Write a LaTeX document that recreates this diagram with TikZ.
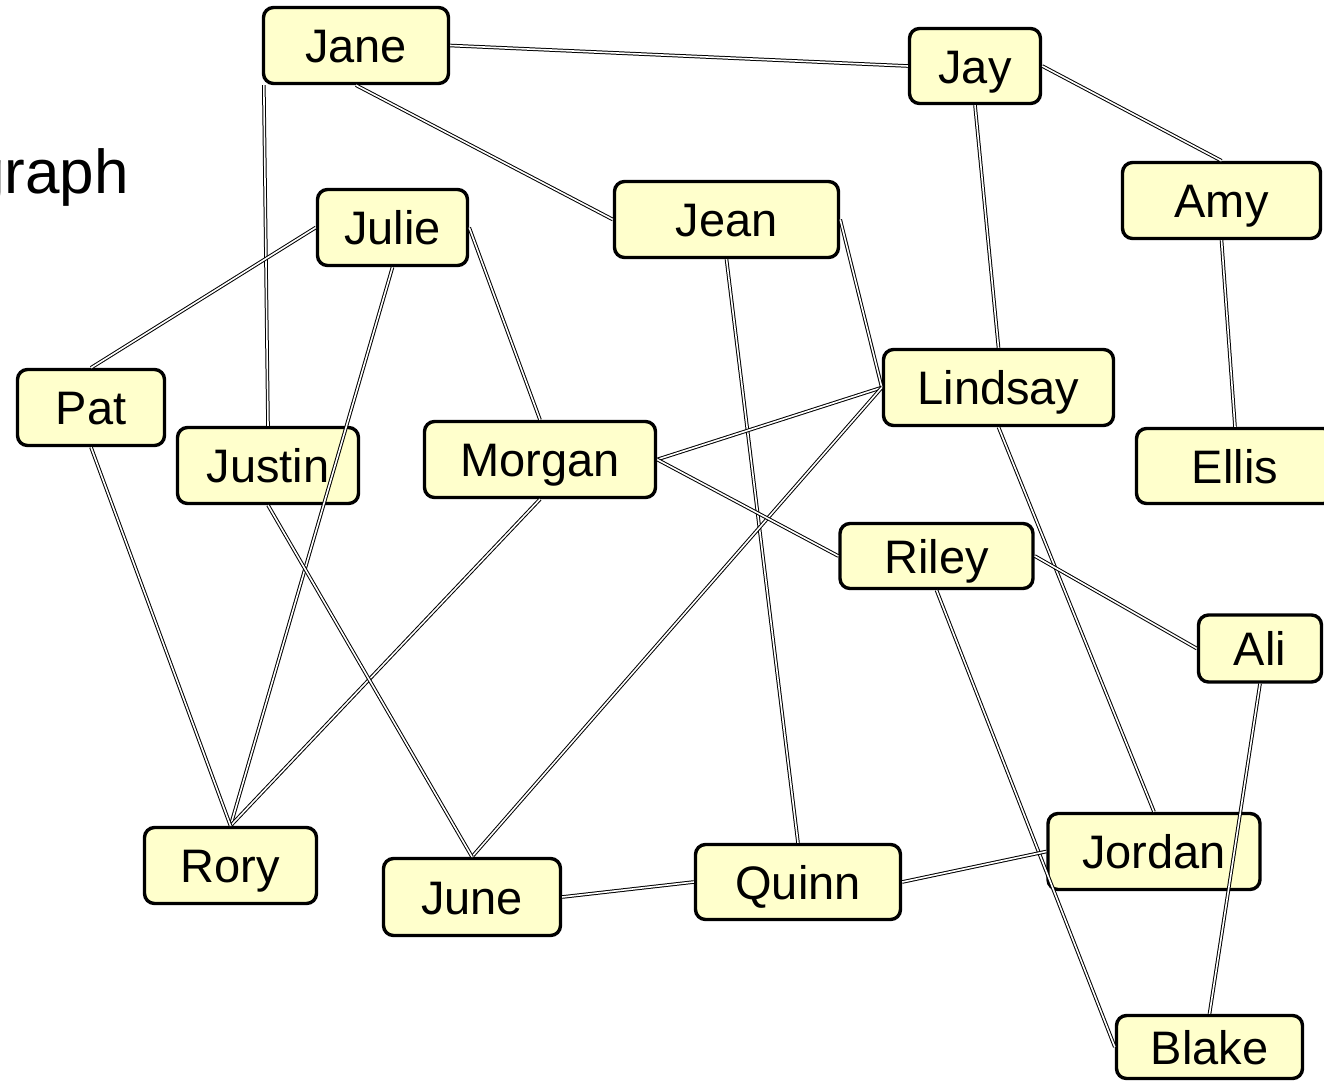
\documentclass[tikz,border=0pt]{standalone}
\usepackage{fontspec}
\setmainfont{Liberation Sans}
\usetikzlibrary{positioning}
\definecolor{notefill}{RGB}{255,255,204}

\begin{document}
\begin{tikzpicture}[x=1pt,y=-1pt]
    \tikzstyle{person}=[draw=black,line width=3.4pt,fill=notefill,rounded corners=10pt,inner sep=0pt,text height=34pt,text depth=0pt,font=\fontsize{47}{56}\selectfont]
    \tikzstyle{edge}=[draw=black,line width=1pt,double=white,double distance=1.6pt]
    \tikzstyle{title}=[anchor=base west,inner sep=0pt,font=\fontsize{62}{74}\selectfont]

    \useasboundingbox (0,0) rectangle (1324,1081);
    \clip (0,0) rectangle (1324,1081);

    \node[title] (heading) at (-30,193) {graph};

    \node[person,minimum width=185pt,minimum height=76pt] (jane) at (356,45.5) {Jane};
    \node[person,minimum width=131pt,minimum height=75pt] (jay) at (975,66) {Jay};
    \node[person,minimum width=150pt,minimum height=76pt] (julie) at (392.5,227.5) {Julie};
    \node[person,minimum width=224pt,minimum height=76pt] (jean) at (726.5,219.5) {Jean};
    \node[person,minimum width=198pt,minimum height=76pt] (amy) at (1221.5,200.5) {Amy};
    \node[person,minimum width=147pt,minimum height=76pt] (pat) at (91,407.5) {Pat};
    \node[person,minimum width=181pt,minimum height=76pt] (justin) at (268,465.5) {Justin};
    \node[person,minimum width=231pt,minimum height=76pt] (morgan) at (540,459.5) {Morgan};
    \node[person,minimum width=230pt,minimum height=76pt] (lindsay) at (998.5,387.5) {Lindsay};
    \node[person,minimum width=197pt,minimum height=75pt] (ellis) at (1235,466) {Ellis};
    \node[person,minimum width=193pt,minimum height=65pt] (riley) at (936.5,556) {Riley};
    \node[person,minimum width=123pt,minimum height=67pt] (ali) at (1260,648.5) {Ali};
    \node[person,minimum width=172pt,minimum height=76pt] (rory) at (230.5,865.5) {Rory};
    \node[person,minimum width=177pt,minimum height=77pt] (june) at (472,897) {June};
    \node[person,minimum width=205pt,minimum height=75pt] (quinn) at (798,882) {Quinn};
    \node[person,minimum width=212pt,minimum height=76pt] (jordan) at (1154,851.5) {Jordan};
    \node[person,minimum width=186pt,minimum height=63pt] (blake) at (1209.5,1047) {Blake};

    \draw[edge] (jane.east) -- (jay.west);
    \draw[edge] (jane.south) -- (jean.west);
    \draw[edge] ([xshift=2pt]jane.south west) -- (justin.north);
    \draw[edge] (jay.east) -- (amy.north);
    \draw[edge] (jay.south) -- (lindsay.north);
    \draw[edge] (amy.south) -- (ellis.north);

    \draw[edge] (julie.west) -- (pat.north);
    \draw[edge] (julie.south) -- (rory.north);
    \draw[edge] (julie.east) -- (morgan.north);
    \draw[edge] (jean.east) -- (lindsay.west);
    \draw[edge] (jean.south) -- (quinn.north);

    \draw[edge] (lindsay.west) -- (morgan.east);
    \draw[edge] (lindsay.west) -- (june.north);
    \draw[edge] (lindsay.south) -- (jordan.north);
    \draw[edge] (morgan.east) -- (riley.west);
    \draw[edge] (morgan.south) -- (rory.north);
    \draw[edge] (pat.south) -- (rory.north);
    \draw[edge] (justin.south) -- (june.north);

    \draw[edge] (riley.east) -- (ali.west);
    \draw[edge] (riley.south) -- (blake.west);
    \draw[edge] (ali.south) -- (blake.north);
    \draw[edge] (june.east) -- (quinn.west);
    \draw[edge] (quinn.east) -- (jordan.west);
\end{tikzpicture}
\end{document}
